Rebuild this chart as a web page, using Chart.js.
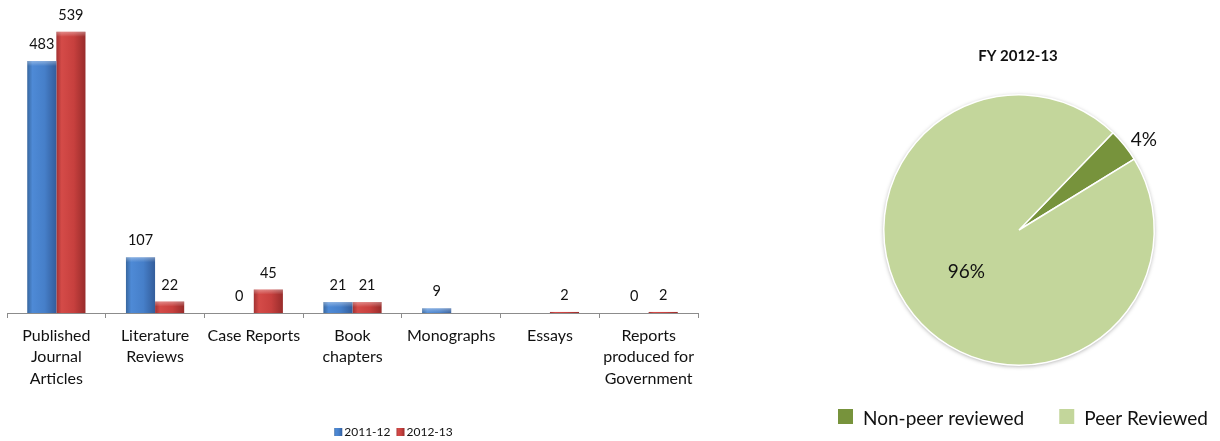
<!DOCTYPE html>
<html>
<head>
<meta charset="utf-8">
<script src="https://cdn.jsdelivr.net/npm/chart.js@4.4.1/dist/chart.umd.min.js"></script>
<style>
  html, body { margin: 0; padding: 0; background: #fff; width: 1220px; height: 441px; overflow: hidden; }
  #bars { position: absolute; left: 0; top: 0; }
  #pie  { position: absolute; left: 800px; top: 0; }
</style>
</head>
<body>
<canvas id="bars" width="720" height="441"></canvas>
<canvas id="pie" width="420" height="441"></canvas>
<script>
// ---- data ----
const categories = [
  ["Published", "Journal", "Articles"],
  ["Literature", "Reviews"],
  "Case Reports",
  ["Book", "chapters"],
  "Monographs",
  "Essays",
  ["Reports", "produced for", "Government"]
];
const seriesNames = ["2011-12", "2012-13"];
const values2011 = [483, 107, 0, 21, 9, null, 0];
const values2012 = [539, 22, 45, 21, null, 2, 2];
const valueAxisMax = 600;

const pieTitle = "FY 2012-13";
const pieLabels = ["Non-peer reviewed", "Peer Reviewed"];
const pieValues = [4, 96];

// ---- styles ----
const FONT = "Lato, 'Open Sans', sans-serif";
const TEXT = "#111";
const barBase = ["#4a80c9", "#c7423f"];
const barStops = [
  ["#38679f", "#4e8ad6", "#467fc9", "#335d9b"],
  ["#a23232", "#d44b48", "#c7403e", "#982c2b"]
];
const pieColors = ["#77933C", "#C3D69B"];

function shadeFor(ctx, x0, x1, stops) {
  const g = ctx.createLinearGradient(x0, 0, x1, 0);
  g.addColorStop(0, stops[0]);
  g.addColorStop(0.18, stops[1]);
  g.addColorStop(0.6, stops[2]);
  g.addColorStop(1, stops[3]);
  return g;
}

// horizontal shading on every bar
const barShade = {
  id: "barShade",
  beforeDatasetsDraw(chart) {
    const ctx = chart.ctx;
    chart.data.datasets.forEach((ds, i) => {
      chart.getDatasetMeta(i).data.forEach(el => {
        const p = el.getProps(["x", "width"], true);
        if (!isFinite(p.x)) return;
        el.options = Object.assign({}, el.options, {
          backgroundColor: shadeFor(ctx, p.x - p.width / 2, p.x + p.width / 2, barStops[i])
        });
      });
    });
  },
  afterDatasetsDraw(chart) {
    // light bevel along the top of each bar
    const ctx = chart.ctx;
    ctx.save();
    chart.data.datasets.forEach((ds, i) => {
      chart.getDatasetMeta(i).data.forEach(el => {
        const p = el.getProps(["x", "y", "base", "width"], true);
        if (!isFinite(p.y) || p.base - p.y < 4) return;
        const g = ctx.createLinearGradient(0, p.y, 0, p.y + 5);
        g.addColorStop(0, "rgba(255,255,255,0.35)");
        g.addColorStop(1, "rgba(255,255,255,0)");
        ctx.fillStyle = g;
        ctx.fillRect(p.x - p.width / 2, p.y, p.width, 5);
      });
    });
    ctx.restore();
  }
};

// value labels above bars
const barValues = {
  id: "barValues",
  afterDatasetsDraw(chart) {
    const ctx = chart.ctx;
    ctx.save();
    ctx.font = "14.5px " + FONT;
    ctx.fillStyle = TEXT;
    ctx.textAlign = "center";
    ctx.textBaseline = "middle";
    chart.data.datasets.forEach((ds, i) => {
      chart.getDatasetMeta(i).data.forEach((el, j) => {
        const v = ds.data[j];
        if (v === null || v === undefined) return;
        ctx.fillText(String(v), el.x, el.y - 16.5);
      });
    });
    ctx.restore();
  }
};

// series key under the bar chart
const barLegend = {
  id: "barLegend",
  afterDraw(chart) {
    const ctx = chart.ctx;
    ctx.save();
    ctx.font = "12px " + FONT;
    ctx.textBaseline = "middle";
    ctx.fillStyle = TEXT;
    const box = 8, gapBox = 2, gapItem = 6, cy = 432;
    const widths = chart.data.datasets.map(d => box + gapBox + ctx.measureText(d.label).width);
    const total = widths.reduce((a, b) => a + b, 0) + gapItem * (widths.length - 1);
    let x = 393.5 - total / 2;
    chart.data.datasets.forEach((d, i) => {
      ctx.fillStyle = shadeFor(ctx, x, x + box, barStops[i]);
      ctx.fillRect(x, cy - box / 2, box, box);
      ctx.fillStyle = TEXT;
      ctx.textAlign = "left";
      ctx.fillText(d.label, x + box + gapBox, cy + 0.5);
      x += widths[i] + gapItem;
    });
    ctx.restore();
  }
};

new Chart(document.getElementById("bars"), {
  type: "bar",
  data: {
    labels: categories,
    datasets: [
      { label: seriesNames[0], data: values2011, backgroundColor: barBase[0] },
      { label: seriesNames[1], data: values2012, backgroundColor: barBase[1] }
    ]
  },
  options: {
    responsive: false,
    animation: false,
    devicePixelRatio: 1,
    layout: { padding: { left: 7, right: 22, top: 0, bottom: 0 } },
    datasets: { bar: { categoryPercentage: 0.59, barPercentage: 1, borderWidth: 0 } },
    plugins: { legend: { display: false }, tooltip: { enabled: false } },
    scales: {
      y: { display: false, min: 0, max: valueAxisMax },
      x: {
        offset: true,
        grid: { display: true, drawOnChartArea: false, drawTicks: true, tickLength: 5, color: "#8c8c8c", offset: true },
        border: { display: true, color: "#8c8c8c" },
        ticks: { font: { family: FONT, size: 16, lineHeight: 1.34 }, color: TEXT, maxRotation: 0, autoSkip: false, padding: 7 },
        afterFit(scale) { scale.height = 128; }
      }
    }
  },
  plugins: [barShade, barValues, barLegend]
});

// soft rim behind the pie
const pieShadow = {
  id: "pieShadow",
  beforeDatasetsDraw(chart) {
    const arc = chart.getDatasetMeta(0).data[0];
    if (!arc) return;
    const p = arc.getProps(["x", "y", "outerRadius"], true);
    const ctx = chart.ctx;
    ctx.save();
    ctx.shadowColor = "rgba(0,0,0,0.35)";
    ctx.shadowBlur = 4;
    ctx.shadowOffsetY = 1;
    ctx.fillStyle = "#fff";
    ctx.beginPath();
    ctx.arc(p.x, p.y, p.outerRadius, 0, Math.PI * 2);
    ctx.fill();
    ctx.restore();
  }
};

// percentages, title and key for the pie
const pieText = {
  id: "pieText",
  afterDatasetsDraw(chart) {
    const ctx = chart.ctx;
    const meta = chart.getDatasetMeta(0);
    const ds = chart.data.datasets[0];
    const total = ds.data.reduce((a, b) => a + b, 0);
    ctx.save();
    ctx.fillStyle = TEXT;
    ctx.textBaseline = "middle";
    ctx.font = "19px " + FONT;
    meta.data.forEach((arc, i) => {
      const p = arc.getProps(["x", "y", "startAngle", "endAngle", "outerRadius"], true);
      const mid = (p.startAngle + p.endAngle) / 2;
      const pct = Math.round(ds.data[i] / total * 100) + "%";
      if (ds.data[i] / total < 0.1) {
        const r = p.outerRadius + 8;
        ctx.textAlign = "left";
        ctx.fillText(pct, p.x + Math.cos(mid) * r, p.y + Math.sin(mid) * r);
      } else {
        const r = p.outerRadius * 0.5;
        ctx.textAlign = "center";
        ctx.fillText(pct, p.x + Math.cos(mid) * r, p.y + Math.sin(mid) * r);
      }
    });
    const c = meta.data[0].getProps(["x"], true);
    ctx.font = "bold 15px " + FONT;
    ctx.textAlign = "center";
    ctx.fillText(pieTitle, c.x - 1, 56);

    ctx.font = "19px " + FONT;
    ctx.textAlign = "left";
    let x = 38;
    const box = 15, cy = 417;
    chart.data.labels.forEach((lab, i) => {
      ctx.fillStyle = ds.backgroundColor[i];
      ctx.fillRect(x, cy - 8, box, box);
      ctx.fillStyle = TEXT;
      ctx.fillText(lab, x + box + 10, cy + 2);
      x += box + 10 + ctx.measureText(lab).width + 35;
    });
    ctx.restore();
  }
};

new Chart(document.getElementById("pie"), {
  type: "pie",
  data: {
    labels: pieLabels,
    datasets: [{ data: pieValues, backgroundColor: pieColors, borderColor: "#fff", borderWidth: 1.5 }]
  },
  options: {
    responsive: false,
    animation: false,
    devicePixelRatio: 1,
    rotation: 44,
    layout: { padding: { left: 83, right: 65, top: 94, bottom: 75 } },
    plugins: { legend: { display: false }, tooltip: { enabled: false } }
  },
  plugins: [pieShadow, pieText]
});
</script>
</body>
</html>
